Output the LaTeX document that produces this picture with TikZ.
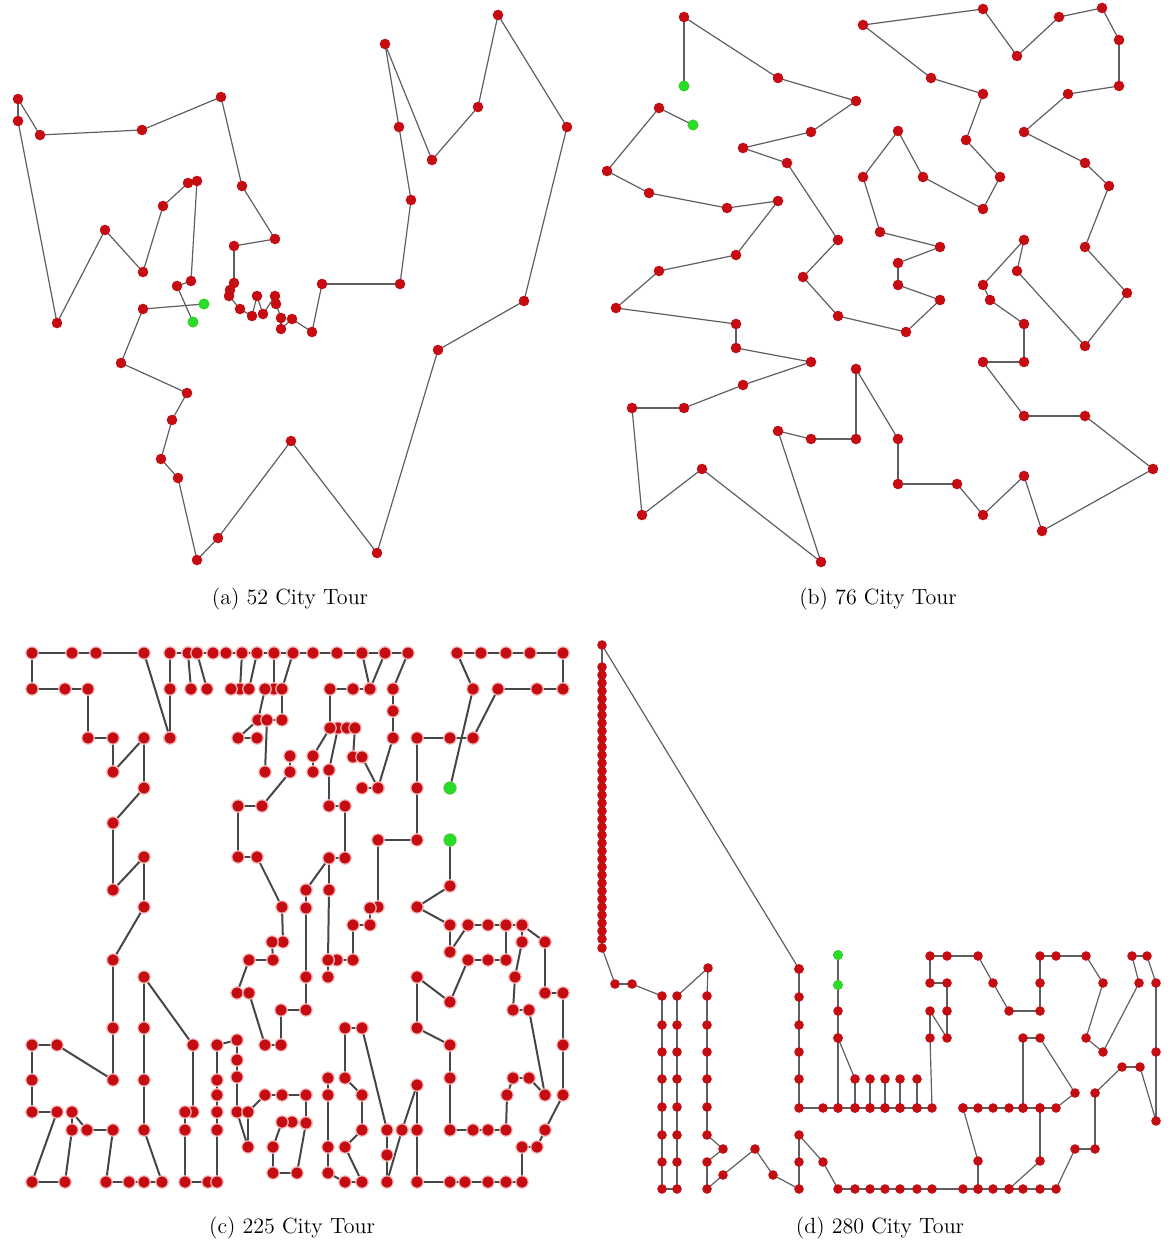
\documentclass[tikz,border=0pt]{standalone}
\pgfdeclarelayer{edges}
\pgfsetlayers{edges,main}
\definecolor{dotred}{RGB}{196,12,18}
\definecolor{halo}{RGB}{250,190,190}
\definecolor{startgreen}{RGB}{40,220,40}
\definecolor{linegray}{RGB}{95,95,95}
\definecolor{darkline}{RGB}{70,70,70}
\tikzset{
  dotA/.style={circle, fill=dotred, inner sep=0pt, minimum size=5.3pt},
  edgeA/.style={draw=linegray, line width=0.6pt},
  dotC/.style={circle, fill=dotred, draw=halo, line width=0.6pt, inner sep=0pt, minimum size=6.2pt},
  edgeC/.style={draw=darkline, line width=1pt},
  dotD/.style={circle, fill=dotred, inner sep=0pt, minimum size=4.8pt},
  edgeD/.style={draw=linegray, line width=0.6pt},
  capt/.style={font=\fontsize{11}{13}\selectfont},
}
% #1 name prefix, #2 node style, #3 edge style, #4 list of x/y
\newcommand\tspchain[4]{%
  \foreach \px/\py [count=\ci] in {#4} {\node[#2] (#1-\ci) at (\px,\py) {};}%
  \begin{pgfonlayer}{edges}%
  \foreach \px/\py [count=\ci] in {#4} {%
    \ifnum\ci>1 \pgfmathtruncatemacro\cj{\ci-1}\draw[#3] (#1-\cj.center) -- (#1-\ci.center);\fi}%
  \end{pgfonlayer}%
}
\begin{document}
\begin{tikzpicture}[x=0.5pt,y=-0.5pt]
\useasboundingbox (0,0) rectangle (1170,1245);

% ---------------- (a) 52 cities
\tspchain{a}{dotA}{edgeA}{193/322, 177/286, 191/281, 197/181, 188/183, 163/206, 143/272, 105/230, 57/323, 18/121, 18/99, 40/135, 142/130, 221/97, 242/186, 275/239, 234/246, 234/283, 230/290, 229/296, 240/309, 252/316, 257/296, 263/314, 275/296, 276/304, 281/318, 281/329, 292/319, 312/332, 322/284, 400/284, 411/200, 399/127, 385/44, 432/160, 478/107, 498/15, 567/127, 524/301, 438/350, 377/553, 291/441, 218/538, 197/560, 178/478, 161/459, 172/420, 187/393, 121/363, 143/309, 204/304}
\fill[startgreen] (a-1.center) circle (2.7pt);
\fill[startgreen] (a-52.center) circle (2.7pt);
\node[capt] (capa) at (290,599) {(a) 52 City Tour};

% ---------------- (b) 76 cities
\tspchain{b}{dotA}{edgeA}{684/86, 684/17, 778/78, 856/101, 811/132, 743/148, 787/163, 838/240, 803/277, 838/316, 906/332, 940/300, 898/285, 898/263, 940/247, 880/232, 863/177, 898/131, 923/177, 983/209, 1000/177, 966/140, 983/94, 931/78, 863/25, 983/9, 1017/56, 1059/17, 1102/8, 1119/40, 1119/86, 1068/94, 1024/132, 1085/163, 1109/186, 1085/247, 1127/293, 1085/346, 1017/271, 1024/240, 983/285, 990/300, 1024/324, 1024/362, 983/362, 1024/416, 1085/416, 1153/469, 1042/531, 1024/476, 983/515, 957/484, 898/484, 898/439, 856/369, 856/439, 811/439, 778/431, 821/562, 702/469, 642/515, 632/408, 684/408, 743/385, 811/362, 736/348, 736/324, 616/308, 659/271, 736/255, 778/201, 727/208, 649/193, 607/171, 659/108, 693/125}
\fill[startgreen] (b-1.center) circle (2.7pt);
\fill[startgreen] (b-76.center) circle (2.7pt);
\node[capt] (capb) at (878,599) {(b) 76 City Tour};

% ---------------- (c) 225 cities
\tspchain{ca}{dotC}{edgeC}{170/738, 144/653, 96/653, 72/653, 32/653, 32/689, 65/689, 88/689, 88/738, 113/738, 113/772, 144/738, 144/788, 113/823, 113/890, 144/857, 144/907, 113/960, 113/1028, 113/1080, 57/1045, 32/1045, 32/1080, 32/1112, 57/1112, 32/1182, 65/1182, 72/1130, 72/1112, 87/1130, 113/1130, 106/1182, 129/1182, 144/1182, 162/1182, 144/1130, 144/1080, 144/1028, 144/977, 193/1045, 193/1112, 185/1112, 185/1130, 185/1182, 208/1182, 217/1182, 217/1130, 217/1112, 217/1095, 217/1080, 217/1045, 237/1040, 237/1060, 237/1077, 237/1112, 248/1147, 248/1112, 265/1095, 282/1095, 306/1095, 306/1123, 292/1122, 282/1122, 273/1147, 273/1173, 297/1173, 306/1123}
\tspchain{cb}{dotC}{edgeC}{170/738, 170/689, 170/653, 188/653, 197/653, 213/653, 226/653, 242/653, 257/653, 274/653, 293/653, 313/653, 337/653, 362/653, 385/653, 408/653, 393/689, 393/711, 393/738, 378/788, 362/788}
\tspchain{cv1}{dotC}{edgeC}{188/653, 191/689}
\tspchain{cv2}{dotC}{edgeC}{197/653, 207/689}
\tspchain{cv3}{dotC}{edgeC}{242/653, 240/689, 231/689}
\tspchain{cv4}{dotC}{edgeC}{257/653, 249/689}
\tspchain{cv5}{dotC}{edgeC}{274/653, 274/689, 265/689, 258/720, 238/738, 257/738}
\tspchain{cv6}{dotC}{edgeC}{293/653, 282/689, 282/720, 267/720, 265/772}
\tspchain{cv7}{dotC}{edgeC}{362/653, 370/689, 385/653}
\tspchain{cc}{dotC}{edgeC}{290/756, 290/772, 262/806, 238/806, 238/857, 257/857, 282/907, 283/942, 272/942, 273/960, 249/960, 237/993, 249/993, 265/1045, 281/1045, 281/1010, 306/1010, 306/977, 306/908, 306/890, 329/858, 345/858, 345/806, 329/806, 329/770, 338/728, 347/728, 355/728, 353/757, 362/757, 378/788}
\tspchain{cd}{dotC}{edgeC}{313/772, 313/756, 330/728, 330/689, 353/689, 370/689}
\tspchain{ce}{dotC}{edgeC}{450/788, 473/689, 457/653, 481/653, 506/653, 530/653, 563/653, 563/689, 537/689, 498/689, 473/738, 450/738, 417/738, 417/788, 417/840, 378/840, 378/907, 370/908, 370/925, 353/925, 353/960, 337/960, 328/960, 328/977}
\tspchain{cf}{dotC}{edgeC}{329/858, 329/890, 328/960}
\tspchain{cg}{dotC}{edgeC}{450/840, 450/886, 417/907, 450/925, 450/952, 468/925, 488/925, 506/925, 522/925, 545/942, 545/993, 563/993, 563/1045, 563/1095, 545/1130, 537/1147, 522/1147, 522/1182, 506/1182, 488/1182, 465/1182, 450/1182, 417/1182, 417/1130, 417/1085, 402/1130, 387/1182, 387/1155, 387/1130, 362/1028, 345/1028, 345/1078, 362/1095, 362/1130, 345/1147, 362/1182, 345/1182, 328/1173, 328/1147, 328/1095, 328/1078}
\tspchain{ch}{dotC}{edgeC}{522/925, 522/942, 515/977, 513/1010, 529/1010, 545/1095, 529/1078, 513/1078, 507/1095, 506/1130, 488/1130, 473/1130, 450/1130, 450/1078, 450/1045, 417/1028, 417/977, 450/1002, 468/960, 488/960, 506/960, 506/925}
\fill[startgreen] (ce-1.center) circle (3.2pt);
\fill[startgreen] (cg-1.center) circle (3.2pt);
\node[capt] (capc) at (292,1228) {(c) 225 City Tour};

% ---------------- (d) 280 cities
\tspchain{da}{dotD}{edgeD}{799/969, 602/645, 602/667, 602/675, 602/683, 602/691, 602/699, 602/707, 602/715, 602/723, 602/731, 602/739, 602/747, 602/755, 602/763, 602/771, 602/779, 602/787, 602/795, 602/803, 602/811, 602/819, 602/827, 602/835, 602/843, 602/851, 602/859, 602/867, 602/875, 602/883, 602/891, 602/899, 602/907, 602/915, 602/923, 602/931, 602/939, 602/948, 615/984, 632/984, 662/996, 662/1025, 662/1052, 662/1079, 662/1107, 662/1135, 662/1162, 662/1189, 677/1189, 677/1162, 677/1135, 677/1107, 677/1079, 677/1052, 677/1025, 677/996, 708/968, 707/996, 707/1025, 707/1052, 707/1079, 707/1107, 707/1135, 723/1149, 707/1162, 707/1189, 723/1175, 755/1149, 773/1175, 799/1189, 799/1162, 799/1135, 823/1162, 838/1189, 855/1189, 870/1189, 885/1189, 900/1189, 917/1189, 932/1189, 963/1189, 978/1189, 993/1189, 1009/1189, 1023/1189, 1040/1189, 1056/1189, 1075/1149, 1095/1149, 1095/1093, 1122/1067, 1140/1067, 1156/1121, 1156/1052, 1156/983, 1147/956, 1132/956, 1139/983, 1103/1052, 1086/1038, 1103/983, 1086/956, 1056/956, 1040/956, 1040/983, 1040/1011, 1009/1011, 993/983, 978/956, 947/956, 930/956, 930/983, 947/983, 947/1011, 947/1038, 930/1011, 930/1038, 932/1108, 917/1108, 900/1108, 885/1108, 870/1108, 855/1108, 838/1108, 823/1108, 799/1108, 799/1079, 799/1052, 799/1025, 799/997, 799/969}
\tspchain{db}{dotD}{edgeD}{838/955, 838/985, 838/1011, 838/1038, 838/1108}
\tspchain{dc}{dotD}{edgeD}{838/1038, 855/1079, 855/1108}
\tspchain{dd1}{dotD}{edgeD}{870/1079, 870/1108}
\tspchain{dd2}{dotD}{edgeD}{885/1079, 885/1108}
\tspchain{dd3}{dotD}{edgeD}{900/1079, 900/1108}
\tspchain{dd4}{dotD}{edgeD}{917/1079, 917/1108}
\tspchain{de}{dotD}{edgeD}{963/1108, 978/1108, 993/1108, 1009/1108, 1023/1108, 1040/1108, 1056/1108, 1075/1093, 1040/1038, 1023/1038, 1023/1108}
\tspchain{df}{dotD}{edgeD}{963/1108, 978/1161, 978/1189}
\tspchain{dg}{dotD}{edgeD}{1040/1108, 1040/1161, 1009/1189}
\fill[startgreen] (db-1.center) circle (2.5pt);
\fill[startgreen] (db-2.center) circle (2.5pt);
\node[capt] (capd) at (880,1228) {(d) 280 City Tour};
\end{tikzpicture}
\end{document}
